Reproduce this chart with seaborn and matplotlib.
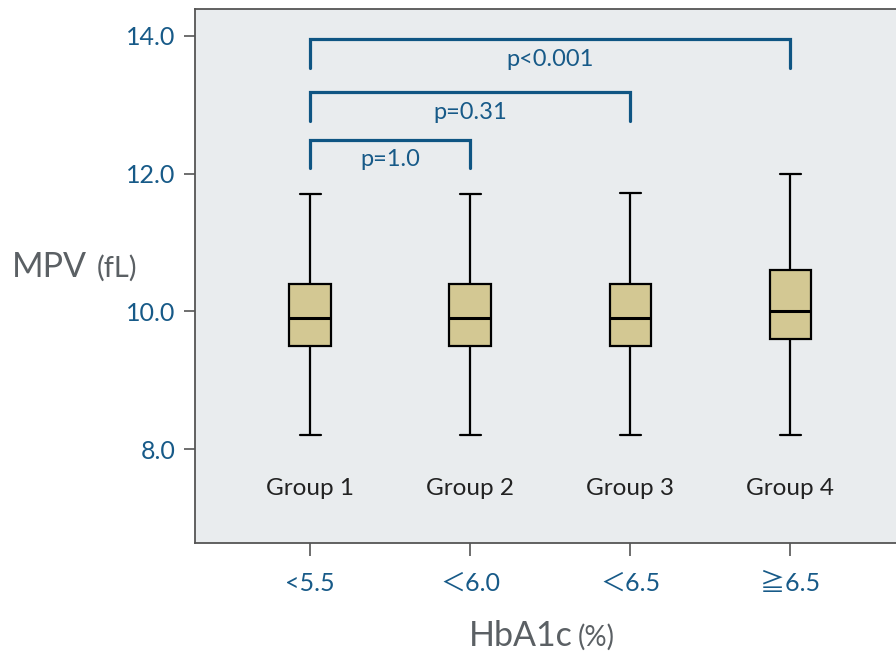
import matplotlib
matplotlib.use("Agg")
import matplotlib.pyplot as plt
import seaborn as sns
import pandas as pd

# five-number summaries (MPV, fL)
groups = ['Group 1', 'Group 2', 'Group 3', 'Group 4']
hba1c_labels = ['<5.5', '\uff1c6.0', '\uff1c6.5', '\u22676.5']
whisker_low = [8.2, 8.2, 8.2, 8.2]
q1 = [9.5, 9.5, 9.5, 9.6]
median = [9.9, 9.9, 9.9, 10.0]
q3 = [10.4, 10.4, 10.4, 10.6]
whisker_high = [11.7, 11.7, 11.72, 12.0]

# comparisons against Group 1
pairs = [(0, 1), (0, 2), (0, 3)]
p_labels = ['p=1.0', 'p=0.31', 'p<0.001']

sns.set_style("white")
fonts = ['Lato', 'Noto Sans CJK JP', 'DejaVu Sans']
plt.rcParams['font.family'] = fonts

rows = []
for i, g in enumerate(groups):
    for v in [whisker_low[i], q1[i], median[i], q3[i], whisker_high[i]]:
        rows.append({'group': g, 'MPV': v})
df = pd.DataFrame(rows)

blue = '#175a88'
bracket_col = '#0f5583'
grey = '#5b6064'

fig = plt.figure(figsize=(8.96, 6.53), dpi=100)
ax = fig.add_axes([0.2176, 0.1685, 0.7824, 0.8177])
ax.set_facecolor('#e9ecee')

sns.boxplot(data=df, x='group', y='MPV', order=groups, ax=ax,
            color='#d3c893', saturation=1, linecolor='black', linewidth=1.6,
            width=0.26, whis=(0, 100), showfliers=False,
            medianprops={'linewidth': 2.2})

# significance brackets
tops = [12.49, 13.18, 13.95]
for (a, b), top, lab in zip(pairs, tops, p_labels):
    ax.plot([a, a, b, b], [top - 0.41, top, top, top - 0.41],
            color=bracket_col, lw=2.3, solid_joinstyle='miter')
    ax.text((a + b) / 2, top - 0.29, lab, ha='center', va='center',
            color=blue, fontsize=17)

# group names inside the panel
for i, g in enumerate(groups):
    ax.text(i, 7.33, g, ha='center', va='baseline', color='#222222', fontsize=17.5)

ax.set_xlim(-0.72, 3.66)
ax.set_ylim(6.64, 14.39)
ax.set_yticks([8, 10, 12, 14])
ax.set_yticklabels(['8.0', '10.0', '12.0', '14.0'])
ax.set_xticks(range(4))
ax.set_xticklabels(hba1c_labels)
ax.tick_params(axis='y', colors='#555555', labelcolor=blue, labelsize=18,
               length=8, width=1.2, direction='out', left=True, pad=6)
ax.tick_params(axis='x', colors='#555555', labelcolor=blue, labelsize=18,
               length=9, width=1.2, direction='out', bottom=True, pad=12)
ax.set_xlabel('')
ax.set_ylabel('')

for side in ['left', 'top', 'bottom']:
    ax.spines[side].set_visible(True)
    ax.spines[side].set_color('#555555')
    ax.spines[side].set_linewidth(1.3)
ax.spines['right'].set_visible(False)

# axis titles with mixed sizes
fig.text(87 / 896, 1 - 277 / 653, 'MPV', ha='right', va='baseline',
         color=grey, fontsize=24.5)
fig.text(97 / 896, 1 - 277 / 653, '(fL)', ha='left', va='baseline',
         color=grey, fontsize=21)
fig.text(573 / 896, 1 - 646 / 653, 'HbA1c', ha='right', va='baseline',
         color=grey, fontsize=24.5)
fig.text(578 / 896, 1 - 646 / 653, '(%)', ha='left', va='baseline',
         color=grey, fontsize=20)

fig.savefig('out.png', dpi=100)
